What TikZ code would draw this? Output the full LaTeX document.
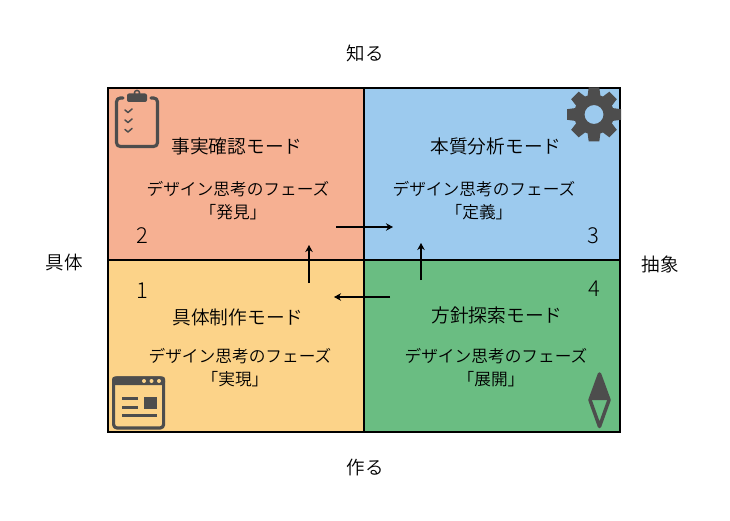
\documentclass[tikz,border=0pt]{standalone}
\usepackage{fontspec}
\setmainfont{Noto Sans CJK JP DemiLight}
\newfontfamily\numfont{Noto Sans CJK JP Light}
\usetikzlibrary{arrows.meta}
\definecolor{cred}{HTML}{F6B092}
\definecolor{cblue}{HTML}{9CCAEE}
\definecolor{cyel}{HTML}{FCD389}
\definecolor{cgreen}{HTML}{6ABD82}
\definecolor{icon}{HTML}{4D4D4D}
\newcommand{\shifted}[1]{#1\hspace*{10pt}}
\tikzset{
  quad/.style={draw=black,line width=1.5pt},
  mode/.style={font=\fontsize{18.7}{22}\selectfont,inner sep=0pt},
  phase/.style={font=\fontsize{16.7}{23}\selectfont,align=center,inner sep=0pt},
  axis/.style={font=\fontsize{18.5}{22}\selectfont,inner sep=0pt},
  num/.style={font=\numfont\fontsize{22}{24}\selectfont,inner sep=0pt},
  flow/.style={line width=1.3pt,-{Stealth[length=7pt,width=7.5pt]}},
  iconline/.style={draw=icon,line width=3.2pt,line cap=round,line join=round},
  iconthin/.style={draw=icon,line width=1.5pt,line cap=round,line join=round},
}
\begin{document}
\begin{tikzpicture}[x=1pt,y=-1pt]
\useasboundingbox (0,0) rectangle (730,521);
\fill[white] (0,0) rectangle (730,521);
% quadrants
\fill[cred] (108,88) rectangle (364,260);
\fill[cblue] (364,88) rectangle (620,260);
\fill[cyel] (108,260) rectangle (364,432);
\fill[cgreen] (364,260) rectangle (620,432);
\draw[quad] (108,88) rectangle (620,432);
\draw[quad] (364,88) -- (364,432);
\draw[quad] (108,260) -- (620,260);
% axis labels
\node[axis] (top) at (365,53) {知る};
\node[axis] (bottom) at (365,467) {作る};
\node[axis] (left) at (64,262) {具体};
\node[axis] (right) at (660,264) {抽象};
% titles
\node[mode] (m2) at (237,146) {事実確認モード};
\node[mode] (m3) at (496,146) {本質分析モード};
\node[mode] (m1) at (238,317) {具体制作モード};
\node[mode] (m4) at (497,315) {方針探索モード};
% phases
\node[phase] (p2) at (238,201) {デザイン思考のフェーズ\\\shifted{「発見」}};
\node[phase] (p3) at (484,201) {デザイン思考のフェーズ\\\shifted{「定義」}};
\node[phase] (p1) at (240,368) {デザイン思考のフェーズ\\\shifted{「実現」}};
\node[phase] (p4) at (496,368) {デザイン思考のフェーズ\\\shifted{「展開」}};
% numbers
\node[num] (n2) at (142,236) {2};
\node[num] (n3) at (593,236) {3};
\node[num] (n1) at (142,291) {1};
\node[num] (n4) at (594,289) {4};
% arrows
\coordinate (a1s) at (309,283); \coordinate (a1e) at (309,245);
\coordinate (a2s) at (336,227); \coordinate (a2e) at (393,227);
\coordinate (a3s) at (421,280); \coordinate (a3e) at (421,243);
\coordinate (a4s) at (390,297); \coordinate (a4e) at (334,297);
\draw[flow] (a1s) -- (a1e);
\draw[flow] (a2s) -- (a2e);
\draw[flow] (a3s) -- (a3e);
\draw[flow] (a4s) -- (a4e);
% clipboard icon
\draw[iconline] (123,98) -- (120.5,98) .. controls (118,98) and (116.5,99.5) .. (116.5,102) -- (116.5,142.5) .. controls (116.5,145) and (118,146.5) .. (120.5,146.5) -- (153.5,146.5) .. controls (156,146.5) and (157.5,145) .. (157.5,142.5) -- (157.5,102) .. controls (157.5,99.5) and (156,98) .. (153.5,98) -- (151,98);
\fill[icon,rounded corners=2pt] (127,93.5) rectangle (147,102);
\draw[icon,line width=1.5pt] (137,93) circle[radius=2.6];
\draw[iconthin] (125,110) -- (128,112.5) -- (132,109);
\draw[iconthin] (125,120) -- (128,122.5) -- (132,119);
\draw[iconthin] (125,129.5) -- (128,132) -- (132,128.5);
% gear icon
\begin{scope}[shift={(594,114.5)}]
\foreach \a in {0,45,...,315}{
  \fill[icon,rotate=\a] (-6.5,-18) -- (-5.3,-27) -- (5.3,-27) -- (6.5,-18) -- cycle;
}
\fill[icon,even odd rule] (0,0) circle[radius=20] (0,0) circle[radius=9.5];
\end{scope}
% browser icon
\draw[iconline,rounded corners=3.5pt] (113.6,378) rectangle (163.6,428);
\fill[icon,rounded corners=3pt] (112,376.4) rectangle (165.2,385);
\fill[cyel] (144,381) circle[radius=2];
\fill[cyel] (151.5,381) circle[radius=2];
\fill[cyel] (159,381) circle[radius=2];
\fill[icon] (144,396.5) rectangle (156.5,409);
\fill[icon] (122,396.5) rectangle (138,400);
\fill[icon] (122,405.5) rectangle (138,409);
\fill[icon] (122,413.5) rectangle (156.5,417);
% compass icon
\draw[icon,line width=3.5pt,line join=round] (599.5,374) -- (609,400) -- (599.5,426.5) -- (590,400) -- cycle;
\fill[icon] (599.5,374) -- (609,400) -- (590,400) -- cycle;
\end{tikzpicture}
\end{document}
